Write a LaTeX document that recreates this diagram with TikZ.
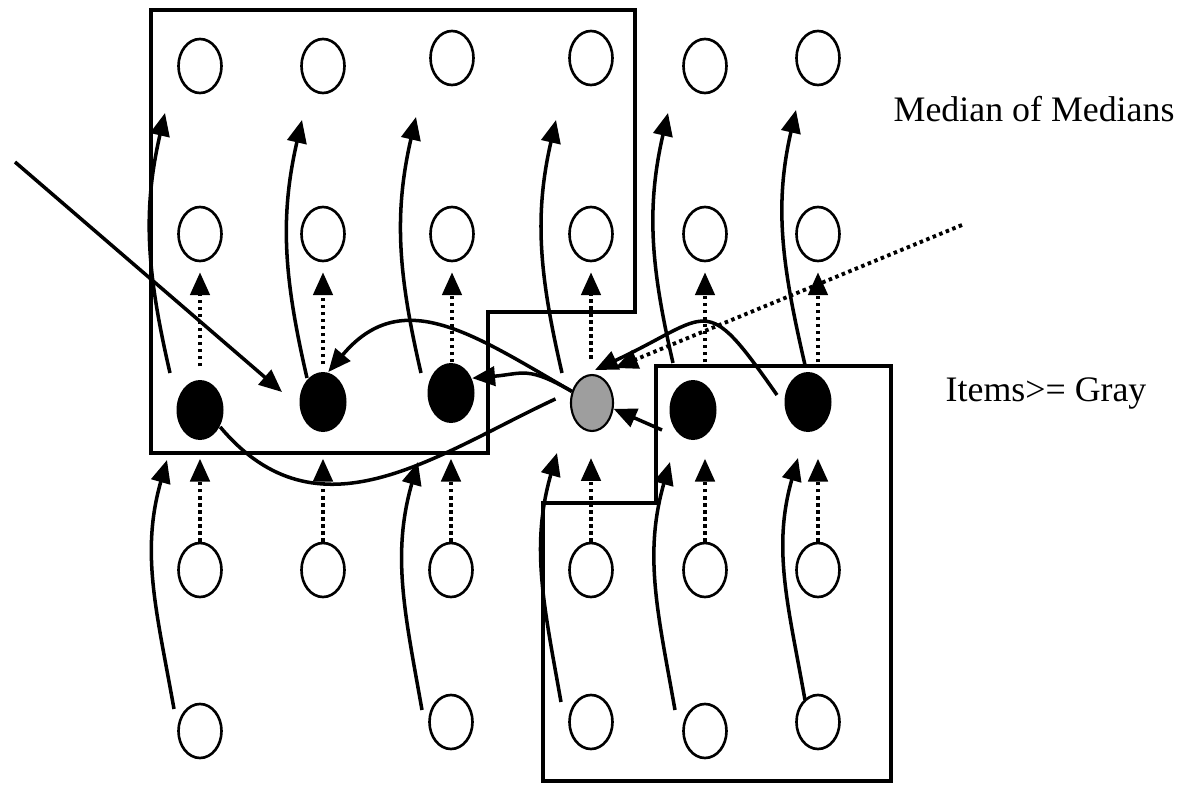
\documentclass[tikz,border=0pt]{standalone}
\usepackage{fontspec}
\setmainfont{Liberation Serif}
\usetikzlibrary{arrows.meta, shapes.geometric}

\begin{document}
\begin{tikzpicture}[
    item/.style={ellipse, draw, line width=0.75pt, minimum width=0.43cm, minimum height=0.54cm, inner sep=0pt},
    med/.style={ellipse, fill=black, minimum width=0.47cm, minimum height=0.60cm, inner sep=0pt},
    mom/.style={ellipse, draw, line width=0.6pt, fill=black!38, minimum width=0.42cm, minimum height=0.56cm, inner sep=0pt},
    wire/.style={line width=1pt},
    link/.style={wire, -{Triangle[length=6.5pt,width=5.5pt]}},
    dots/.style={line width=1.1pt, dash pattern=on 1pt off 1pt, -{Triangle[length=6.5pt,width=5.5pt]}},
    frame/.style={line width=1.1pt},
    note/.style={anchor=base west, inner sep=0pt, font=\fontsize{10.2pt}{12pt}\selectfont}]
    \useasboundingbox (0,0) rectangle (11.94,-7.85);

    % the two groups
    \draw[frame] (1.51,-0.10) -- (6.35,-0.10) -- (6.35,-3.12) -- (4.88,-3.12)
        -- (4.88,-4.53) -- (1.51,-4.53) -- cycle;
    \draw[frame] (6.56,-3.66) -- (8.91,-3.66) -- (8.91,-7.81) -- (5.43,-7.81)
        -- (5.43,-5.03) -- (6.56,-5.03) -- cycle;

    % items
    \foreach \n/\x/\y in {a1/2.00/-0.66, a2/3.23/-0.66, a3/4.52/-0.58, a4/5.91/-0.58, a5/7.05/-0.66, a6/8.18/-0.58,
        b1/2.00/-2.34, b2/3.23/-2.34, b3/4.52/-2.34, b4/5.91/-2.34, b5/7.05/-2.34, b6/8.18/-2.34,
        c1/2.00/-5.70, c2/3.23/-5.70, c3/4.51/-5.70, c4/5.91/-5.70, c5/7.05/-5.70, c6/8.18/-5.70,
        d1/2.00/-7.31, d3/4.51/-7.22, d4/5.91/-7.22, d5/7.05/-7.31, d6/8.18/-7.22}
        \node[item] (\n) at (\x,\y) {};
    % medians
    \foreach \n/\x/\y in {m1/2.00/-4.10, m2/3.23/-4.02, m3/4.51/-3.93, m5/6.93/-4.10, m6/8.08/-4.02}
        \node[med] (\n) at (\x,\y) {};
    \node[mom] (m4) at (5.92,-4.03) {};

    % dotted comparisons
    \foreach \i/\s in {1/0.18cm, 2/0.26cm, 3/0.35cm, 4/0.26cm, 5/0.18cm, 6/0.26cm}
        \draw[dots, shorten >=\s] (c\i.north) -- (c\i |- m\i.south);
    \foreach \i/\s in {1/0.13cm, 2/0.07cm, 3/0cm, 4/0.15cm, 5/0.17cm, 6/0.09cm}
        \draw[dots, shorten <=\s, shorten >=0.1cm] (b\i |- m\i.north) -- (b\i.south);

    % solid curves
    \foreach \i/\sx/\sy/\tx/\ty in {1/-0.30/0.37/-0.35/-0.47, 2/-0.16/0.24/-0.21/-0.54,
        3/-0.30/0.20/-0.36/-0.59, 4/-0.30/0.30/-0.35/-0.62, 5/-0.20/0.47/-0.37/-0.47, 6/-0.03/0.37/-0.22/-0.52}
        \draw[link] ([shift={(\sx,\sy)}]m\i.center) to[out=103,in=-103] ([shift={(\tx,\ty)}]a\i.center);
    \foreach \i/\sx/\sy/\tx/\ty in {1/-0.26/0.22/-0.33/-0.50, 3/-0.29/0.12/-0.33/-0.69,
        4/-0.30/0.20/-0.35/-0.50, 5/-0.30/0.21/-0.23/-0.52, 6/-0.13/0.22/-0.10/-0.56}
        \draw[link] ([shift={(\sx,\sy)}]d\i.center) to[out=100,in=-106] ([shift={(\tx,\ty)}]m\i.center);

    % around the median of medians
    \draw[link] (m4.150) to[out=150,in=50,looseness=1.2] (m2.80);
    \draw[link] (m4.150) to[out=150,in=5,looseness=1.3] (m3.35);
    \draw[wire, shorten >=0.18cm] (m1.-40) to[out=-50,in=205,looseness=1.1] (m4.150);
    \draw[link] ([shift={(-0.31,-0.20)}]m5.center) -- (m4.-15);
    \draw[link] ([shift={(-0.31,0.07)}]m6.center) to[out=125,in=25,looseness=1.8] ([shift={(0.03,0.33)}]m4.center);

    \coordinate (head) at (0.15,-1.62);
    \draw[link] (head) -- ([shift={(-0.41,0.10)}]m2.center);
    \coordinate (tail) at (9.62,-2.25);
    \draw[dots] (tail) -- ([shift={(0.23,0.35)}]m4.center);

    \node[note] (mom-text) at (8.93,-1.22) {Median of Medians};
    \node[note] (ge-text) at (9.45,-4.01) {Items>= Gray};
\end{tikzpicture}
\end{document}
